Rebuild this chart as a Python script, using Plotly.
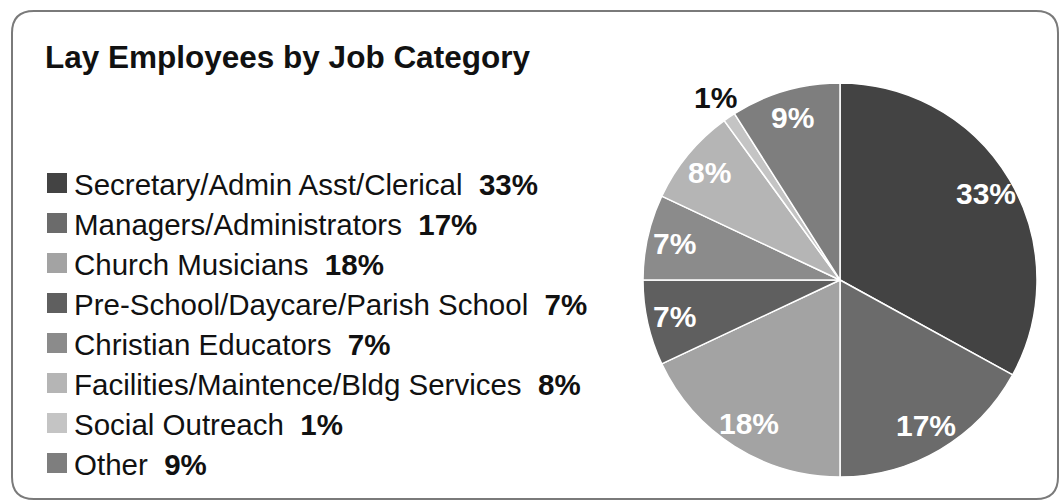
import math
import plotly.graph_objects as go

# Job categories, shares (percent) and slice shades
categories = [
    "Secretary/Admin Asst/Clerical",
    "Managers/Administrators",
    "Church Musicians",
    "Pre-School/Daycare/Parish School",
    "Christian Educators",
    "Facilities/Maintence/Bldg Services",
    "Social Outreach",
    "Other",
]
shares = [33, 17, 18, 7, 7, 8, 1, 9]
shades = ["#434343", "#6b6b6b", "#a3a3a3", "#5f5f5f",
          "#8b8b8b", "#b5b5b5", "#c4c4c4", "#7e7e7e"]

title_text = "Lay Employees by Job Category"

W, H = 1060, 502
FONT = "Liberation Sans, Arial, Helvetica, sans-serif"


def px(x):
    return x / W


def py(y):
    return 1 - y / H


# pie geometry in pixels
CX, CY, R = 840, 280, 197

fig = go.Figure()
fig.add_trace(go.Pie(
    labels=categories,
    values=shares,
    sort=False,
    direction="clockwise",
    rotation=0,
    marker=dict(colors=shades, line=dict(color="white", width=1.5)),
    textinfo="none",
    hoverinfo="label+percent",
    showlegend=False,
    domain=dict(x=[px(CX - R), px(CX + R)], y=[py(CY + R), py(CY - R)]),
))

annotations = []

# slice labels placed along each slice's bisector
cum = 0.0
total = sum(shares)
for val in shares:
    theta = 2 * math.pi * (cum + val / 2) / total
    cum += val
    small = val / total < 0.02
    f = 1.12 if small else 0.86
    lx = CX + R * f * math.sin(theta)
    ly = CY - R * f * math.cos(theta)
    annotations.append(dict(
        x=px(lx), y=py(ly), xref="paper", yref="paper",
        text=f"<b>{val}%</b>", showarrow=False,
        xanchor="center", yanchor="middle",
        font=dict(family=FONT, size=30, color="#111" if small else "white"),
    ))

# title
annotations.append(dict(
    x=px(43), y=py(57), xref="paper", yref="paper",
    text=f"<b>{title_text}</b>", showarrow=False,
    xanchor="left", yanchor="middle",
    font=dict(family=FONT, size=31.5, color="#111"),
))

shapes = []

# custom legend: swatch + label + bold share
row0, row_gap = 183, 40
for i, (name, val, col) in enumerate(zip(categories, shares, shades)):
    yc = row0 + i * row_gap
    shapes.append(dict(
        type="rect", xref="paper", yref="paper",
        x0=px(47), x1=px(67), y0=py(yc + 10), y1=py(yc - 10),
        fillcolor=col, line=dict(width=0),
    ))
    annotations.append(dict(
        x=px(72), y=py(yc + 1), xref="paper", yref="paper",
        text=f"{name}\u00a0\u00a0<b>{val}%</b>", showarrow=False,
        xanchor="left", yanchor="middle",
        font=dict(family=FONT, size=29.5, color="#111"),
    ))

# rounded frame
x0, y0, x1, y1, rr = 12, 11, 1058, 499, 22
path = (
    f"M {px(x0 + rr)} {py(y0)} L {px(x1 - rr)} {py(y0)} "
    f"Q {px(x1)} {py(y0)} {px(x1)} {py(y0 + rr)} "
    f"L {px(x1)} {py(y1 - rr)} Q {px(x1)} {py(y1)} {px(x1 - rr)} {py(y1)} "
    f"L {px(x0 + rr)} {py(y1)} Q {px(x0)} {py(y1)} {px(x0)} {py(y1 - rr)} "
    f"L {px(x0)} {py(y0 + rr)} Q {px(x0)} {py(y0)} {px(x0 + rr)} {py(y0)} Z"
)
shapes.append(dict(type="path", xref="paper", yref="paper", path=path,
                   line=dict(color="#7a7a7a", width=2), layer="below"))

fig.update_layout(
    width=W, height=H,
    margin=dict(l=0, r=0, t=0, b=0),
    paper_bgcolor="white",
    plot_bgcolor="white",
    annotations=annotations,
    shapes=shapes,
)

fig.write_html("out.html")
